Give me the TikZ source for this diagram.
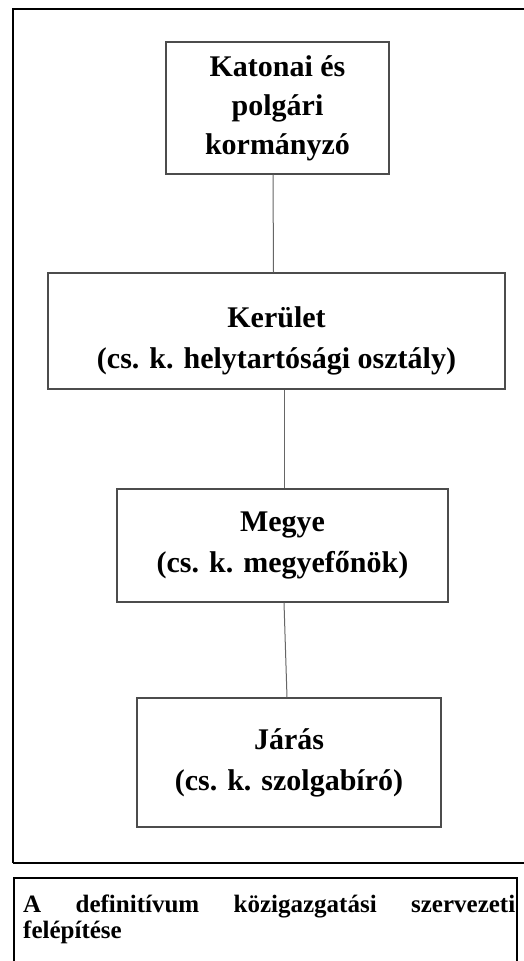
\documentclass[tikz,border=0pt]{standalone}
\usepackage{fontspec}
\setmainfont{Liberation Serif}

\begin{document}
\begin{tikzpicture}[x=1pt,y=-1pt,
  unit/.style={draw=black!70,line width=1.3pt,inner sep=0pt,align=center,
    font=\fontsize{30}{41}\selectfont\bfseries},
  link/.style={draw=black!60,line width=1pt}]
\useasboundingbox (0,0) rectangle (523,961);
\fill[white] (0,0) rectangle (523,961);
\draw[line width=1.8pt] (13,863) -- (13,9) -- (530,9);
\draw[line width=1.8pt] (13,863) -- (530,863);
\draw[line width=1.3pt] (517,970) -- (517,878) -- (14,878) -- (14,970);
\node[unit,minimum width=223pt,minimum height=132pt,font=\fontsize{30}{39}\selectfont\bfseries] (gov) at (277.5,108) {Katonai és\\polgári\\kormányzó};
\node[unit,minimum width=457pt,minimum height=116pt] (ker) at (276.5,331) {\rule{0pt}{40pt}Kerület\\(cs. k. helytartósági osztály)};
\node[unit,minimum width=331pt,minimum height=113pt] (megye) at (282.5,545.5) {Megye\\(cs. k. megyefőnök)};
\node[unit,minimum width=304pt,minimum height=129pt] (jaras) at (289,762.5) {Járás\\(cs. k. szolgabíró)};
\draw[link] ([xshift=-4.5pt]gov.south) -- ([xshift=-3pt]ker.north);
\draw[link] ([xshift=7.5pt]ker.south) -- ([xshift=1.5pt]megye.north);
\draw[link] ([xshift=1.5pt]megye.south) -- ([xshift=-2pt]jaras.north);
\node[anchor=north west,inner sep=0pt,text width=492pt,align=justify,
  font=\fontsize{25}{26}\selectfont\bfseries] (cap) at (23,895)
  {A definitívum közigazgatási szervezeti\linebreak felépítése};
\end{tikzpicture}
\end{document}
